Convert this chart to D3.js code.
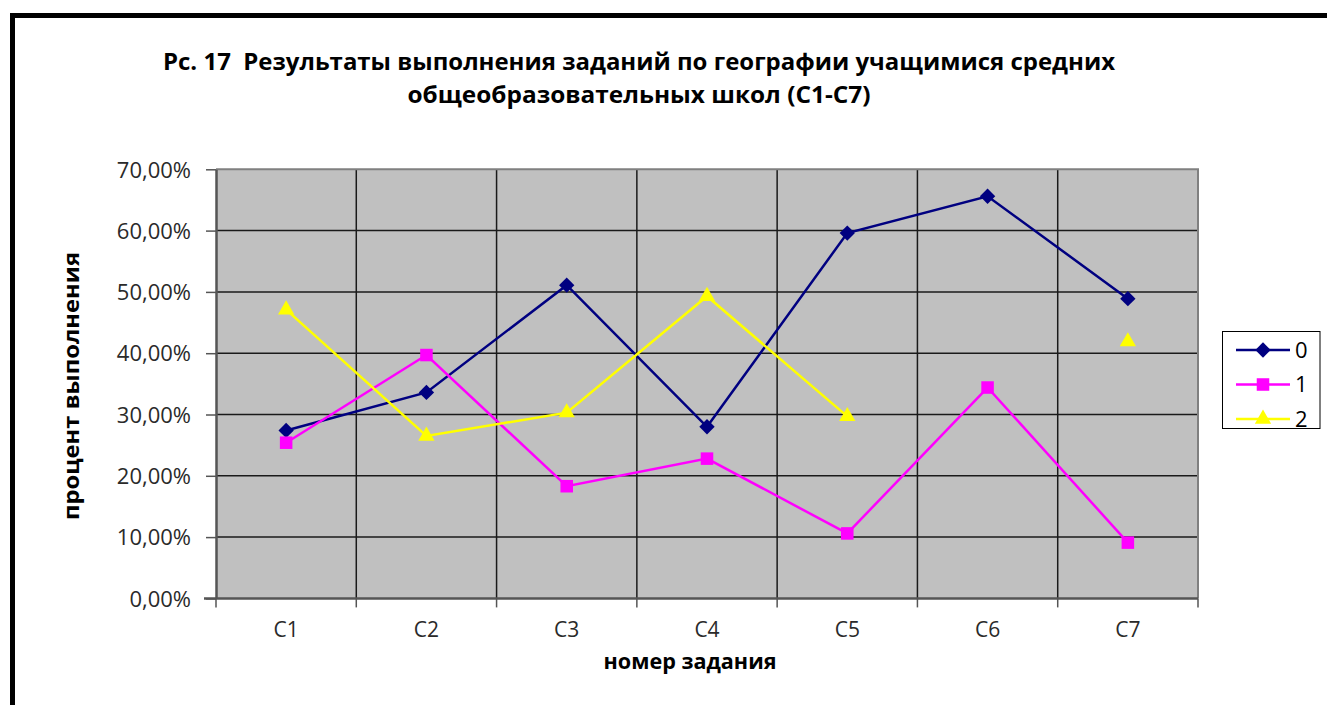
<!DOCTYPE html>
<html>
<head>
<meta charset="utf-8">
<script src="https://cdn.jsdelivr.net/npm/d3@7"></script>
<style>
  html, body { margin: 0; padding: 0; background: #fff; }
  svg { display: block; }
</style>
</head>
<body>
<svg id="chart" width="1327" height="705"></svg>
<script>
// ---- data ----
const categories = ["C1", "C2", "C3", "C4", "C5", "C6", "C7"];
const seriesNames = ["0", "1", "2"];
const series0 = [27.4, 33.6, 51.1, 28.0, 59.6, 65.6, 48.9];
const series1 = [25.4, 39.7, 18.3, 22.8, 10.6, 34.4, 9.1];
const series2 = [47.1, 26.5, 30.3, 49.3, 29.7, null, 41.9];
const yTicks = [0, 10, 20, 30, 40, 50, 60, 70];
const titleLines = ["Рс. 17  Результаты выполнения заданий по географии учащимися средних",
                    "общеобразовательных школ (С1-С7)"];
const xTitle = "номер задания";
const yTitle = "процент выполнения";

const colors = ["#000080", "#FF00FF", "#FFFF00"];
const symbols = [d3.symbolDiamond2, d3.symbolSquare2, d3.symbolTriangle2];
const allSeries = [series0, series1, series2];

const svg = d3.select("#chart");
const font = "'Open Sans', 'DejaVu Sans', sans-serif";

function fit(sel, w) {
  sel.attr("textLength", w).attr("lengthAdjust", "spacingAndGlyphs");
}

// outer frame
svg.append("rect").attr("x", 12.5).attr("y", 15.5).attr("width", 1340).attr("height", 720)
  .attr("fill", "#fff").attr("stroke", "#000").attr("stroke-width", 5);

// plot area
const plot = { left: 216, right: 1198, top: 169.3, bottom: 598.4 };
const x = d3.scaleBand().domain(categories).range([plot.left, plot.right]).padding(0);
const y = d3.scaleLinear().domain([0, 70]).range([plot.bottom, plot.top]);
const cx = c => x(c) + x.bandwidth() / 2;

svg.append("rect").attr("x", plot.left).attr("y", plot.top)
  .attr("width", plot.right - plot.left).attr("height", plot.bottom - plot.top)
  .attr("fill", "#C0C0C0");

// horizontal gridlines
svg.append("g").selectAll("line").data(yTicks.filter(t => t > 0 && t < 70)).join("line")
  .attr("x1", plot.left).attr("x2", plot.right)
  .attr("y1", d => y(d)).attr("y2", d => y(d))
  .attr("stroke", "#1a1a1a").attr("stroke-width", 1.5);
// vertical gridlines
svg.append("g").selectAll("line").data(categories.slice(1)).join("line")
  .attr("x1", d => x(d)).attr("x2", d => x(d))
  .attr("y1", plot.top).attr("y2", plot.bottom)
  .attr("stroke", "#1a1a1a").attr("stroke-width", 1.5);

// plot border top/right (gray)
svg.append("path")
  .attr("d", `M${plot.left},${plot.top}H${plot.right}V${plot.bottom}`)
  .attr("fill", "none").attr("stroke", "#808080").attr("stroke-width", 2);

// y axis
const yAxis = svg.append("g").attr("transform", `translate(${plot.left},0)`)
  .call(d3.axisLeft(y).tickValues(yTicks).tickSize(10).tickSizeOuter(0).tickPadding(15)
    .tickFormat(d => d3.format(".2f")(d).replace(".", ",") + "%"));
yAxis.select(".domain").attr("stroke", "#555").attr("stroke-width", 2.5);
yAxis.selectAll(".tick line").attr("stroke", "#555").attr("stroke-width", 1.5);
yAxis.selectAll(".tick text").attr("font-family", font).attr("font-size", 22)
  .attr("fill", "#2a2a2a").attr("dy", "0.35em");

// x axis
const xAxis = svg.append("g").attr("transform", `translate(0,${plot.bottom})`)
  .call(d3.axisBottom(x).tickSize(0).tickPadding(24));
xAxis.select(".domain").remove();
xAxis.selectAll(".tick text").attr("font-family", font).attr("font-size", 21).attr("fill", "#2a2a2a");
svg.append("line").attr("x1", plot.left - 12).attr("x2", plot.right)
  .attr("y1", plot.bottom).attr("y2", plot.bottom)
  .attr("stroke", "#555").attr("stroke-width", 2.5);
svg.append("g").selectAll("line").data(categories.map(c => x(c)).concat([plot.right])).join("line")
  .attr("x1", d => d).attr("x2", d => d)
  .attr("y1", plot.bottom).attr("y2", plot.bottom + 9)
  .attr("stroke", "#555").attr("stroke-width", 1.5);

// lines & markers
const line = d3.line().defined(d => d.v !== null).x(d => cx(d.c)).y(d => y(d.v));
allSeries.forEach((s, i) => {
  const pts = s.map((v, j) => ({ c: categories[j], v }));
  svg.append("path").datum(pts).attr("d", line)
    .attr("fill", "none").attr("stroke", colors[i]).attr("stroke-width", 2.5);
  svg.append("g").selectAll("path").data(pts.filter(d => d.v !== null)).join("path")
    .attr("transform", d => `translate(${cx(d.c)},${y(d.v)})`)
    .attr("d", d3.symbol().type(symbols[i]).size(i === 0 ? 150 : i === 1 ? 200 : 190))
    .attr("fill", colors[i]);
});

// title
titleLines.forEach((t, i) => {
  const tx = svg.append("text").attr("x", 639).attr("y", 70 + i * 33)
    .attr("text-anchor", "middle").attr("font-family", font).attr("font-weight", "bold")
    .attr("font-size", 23).attr("fill", "#000").style("white-space", "pre").text(t);
  fit(tx, i === 0 ? 952 : 463);
});

// axis titles
const xt = svg.append("text").attr("x", 690).attr("y", 669).attr("text-anchor", "middle")
  .attr("font-family", font).attr("font-weight", "bold").attr("font-size", 21).text(xTitle);
fit(xt, 173);
const yt = svg.append("text").attr("transform", "translate(79,386) rotate(-90)")
  .attr("text-anchor", "middle").attr("font-family", font).attr("font-weight", "bold")
  .attr("font-size", 21).text(yTitle);
fit(yt, 268);

// legend
const lg = svg.append("g");
lg.append("rect").attr("x", 1222.5).attr("y", 331.5).attr("width", 97.5).attr("height", 97)
  .attr("fill", "#fff").attr("stroke", "#000").attr("stroke-width", 1);
const legY = [350, 384.5, 419];
seriesNames.forEach((n, i) => {
  lg.append("line").attr("x1", 1236).attr("x2", 1290).attr("y1", legY[i]).attr("y2", legY[i])
    .attr("stroke", colors[i]).attr("stroke-width", 2.5);
  lg.append("path").attr("transform", `translate(1263,${legY[i]})`)
    .attr("d", d3.symbol().type(symbols[i]).size(i === 0 ? 150 : i === 1 ? 200 : 190))
    .attr("fill", colors[i]);
  lg.append("text").attr("x", 1295).attr("y", legY[i]).attr("dy", "0.36em")
    .attr("font-family", font).attr("font-size", 22).attr("fill", "#000").text(n);
});
</script>
</body>
</html>
